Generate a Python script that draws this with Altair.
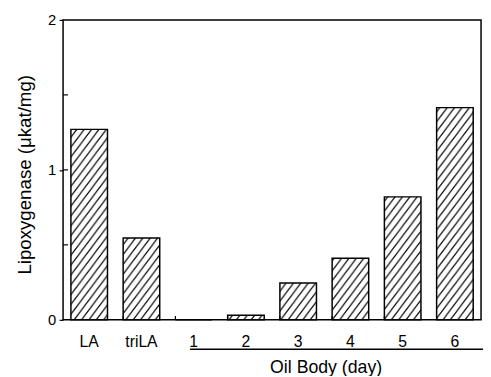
import altair as alt
import pandas as pd

# ---- data ----
categories = ["LA", "triLA", "1", "2", "3", "4", "5", "6"]
activity = [1.27, 0.545, 0.0, 0.03, 0.245, 0.41, 0.82, 1.415]
y_ticks = [0, 1, 2]
y_tick_labels = ["0", "1", "2"]
y_minor = [0.5, 1, 1.5]
group_label = "Oil Body (day)"
group_start, group_end = "1", "6"

FONT = "Liberation Sans"
W, H = 425, 305

xscale = alt.Scale(domain=categories, paddingInner=0.3, paddingOuter=0.15)
yscale = alt.Scale(domain=[0, 2], nice=False)

xaxis = alt.Axis(title=group_label, labelAngle=0, ticks=False, domain=False,
                 labelFontSize=16, labelPadding=14, labelColor="black",
                 labelFont=FONT, titleFont=FONT, titleFontSize=18,
                 titleFontWeight="normal", titleColor="black",
                 titleX=267, titleY=54, titleBaseline="alphabetic",
                 titleAnchor="start", titleAlign="center", grid=False)
yaxis = alt.Axis(title="Lipoxygenase (μkat/mg)", values=y_ticks, labels=False,
                 domain=False, tickSize=4, tickColor="black", tickWidth=1.2,
                 titleFont=FONT, titleFontSize=19,
                 titleFontWeight="normal", titleColor="black",
                 titleX=-33, titleY=157, titleAngle=-90,
                 titleBaseline="alphabetic", titleAlign="center",
                 titleAnchor="start", grid=False)

df = pd.DataFrame({"cat": categories, "val": activity})
bars = alt.Chart(df).mark_bar(
    fill="url(#hatch)", stroke="black", strokeWidth=1.5
).encode(
    x=alt.X("cat:N", scale=xscale, sort=None, axis=xaxis),
    y=alt.Y("val:Q", scale=yscale, axis=yaxis),
)

# value-axis tick labels
yl = pd.DataFrame({"val": y_ticks, "lab": y_tick_labels})
ylabels = alt.Chart(yl).mark_text(
    align="right", baseline="middle", fontSize=15, font=FONT, color="black", dx=-7
).encode(
    y=alt.Y("val:Q", scale=yscale, axis=yaxis),
    x=alt.value(0),
    text="lab:N",
)

# inward ticks on the category axis at the band boundaries
xt = pd.DataFrame({"cat": categories[1:]})
xticks = alt.Chart(xt).mark_rule(color="black", strokeWidth=1.2).encode(
    x=alt.X("cat:N", scale=xscale, sort=None, bandPosition=0, axis=xaxis),
    y=alt.value(H),
    y2=alt.value(H - 4),
)

# inward minor ticks on the value axis
yt = pd.DataFrame({"val": y_minor})
yticks = alt.Chart(yt).mark_rule(color="black", strokeWidth=1.2).encode(
    y=alt.Y("val:Q", scale=yscale, axis=yaxis),
    x=alt.value(0),
    x2=alt.value(5),
)

# bracket line under the oil-body days
gl = pd.DataFrame({"cat": [group_start], "e": [group_end]})
bracket = alt.Chart(gl).mark_rule(color="black", strokeWidth=1.5, x2Offset=43).encode(
    x=alt.X("cat:N", scale=xscale, sort=None, bandPosition=0.4, axis=xaxis),
    x2=alt.X2("e"),
    y=alt.value(H + 30),
)

chart = alt.layer(bars, ylabels, xticks, yticks, bracket).properties(
    width=W, height=H,
    autosize=alt.AutoSizeParams(type="none"),
    padding={"left": 56, "top": 9, "right": 2, "bottom": 54},
    background="white",
).configure_view(
    stroke="black", strokeWidth=1.5
)

chart.save("out.html", embed_options={"renderer": "svg", "actions": False})

# add the diagonal hatch pattern referenced by the bars' fill
defs = ('<svg width="0" height="0" style="position:absolute">'
        '<defs><pattern id="hatch" patternUnits="userSpaceOnUse" width="7.5" height="10">'
        '<path d="M-0.75,1 L0.75,-1 M0,10 L7.5,0 M6.75,11 L8.25,9" '
        'stroke="black" stroke-width="1.2"/>'
        '</pattern></defs></svg>')
with open("out.html", encoding="utf-8") as f:
    html = f.read()
if "<body>" in html:
    html = html.replace("<body>", "<body>" + defs, 1)
else:
    html = html.replace("<div id=", defs + "<div id=", 1)
with open("out.html", "w", encoding="utf-8") as f:
    f.write(html)
